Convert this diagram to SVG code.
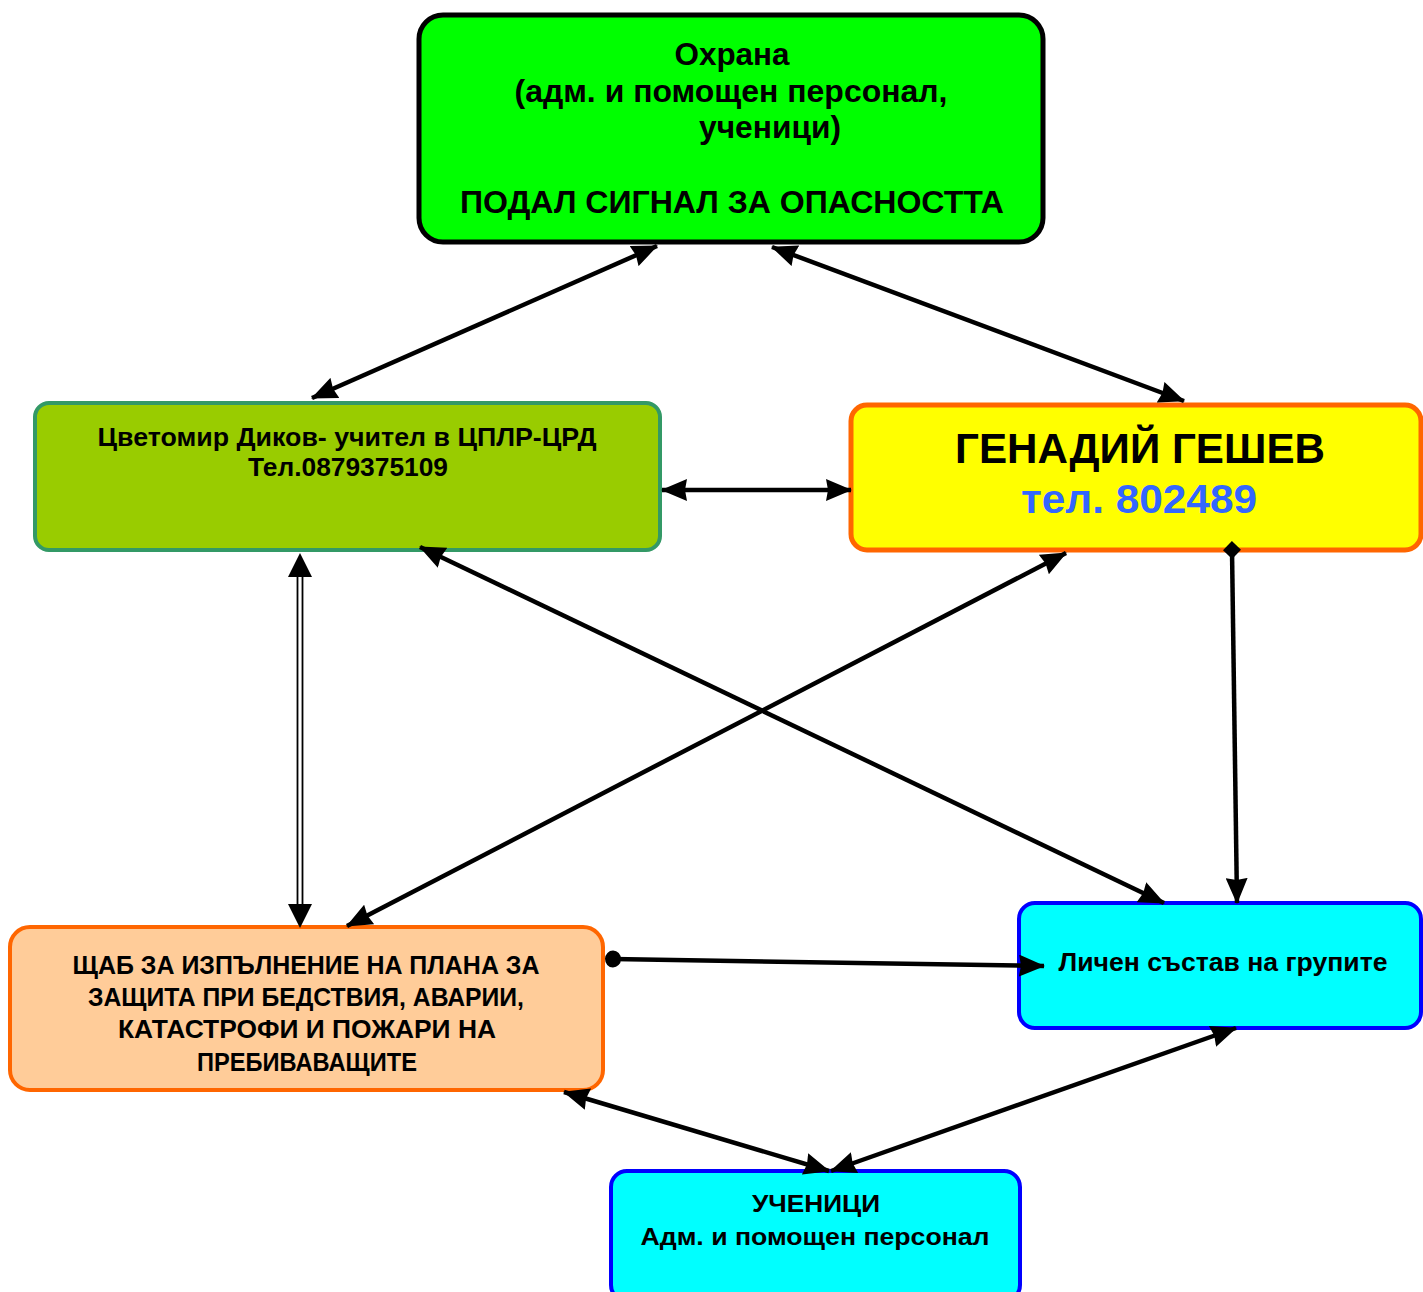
<svg xmlns="http://www.w3.org/2000/svg" width="1423" height="1292" viewBox="0 0 1423 1292">
<style>
.t{font-family:"Liberation Sans Narrow","Liberation Sans",Arial,sans-serif;font-weight:bold;fill:#000;text-anchor:middle}
.g{font-family:"URW Gothic","Century Gothic","Liberation Sans",Arial,sans-serif;font-weight:bold;fill:#000;text-anchor:middle}
.c{stroke:#000;stroke-width:4.5;fill:none}
.d{stroke:#000;stroke-width:1.8;fill:none}
</style>
<defs>
<marker id="ae" viewBox="0 0 26 22" refX="25" refY="11" markerWidth="26" markerHeight="22" markerUnits="userSpaceOnUse" orient="auto"><path d="M0,0 L26,11 L0,22 L2,11 z" fill="#000"/></marker>
<marker id="as" viewBox="0 0 26 22" refX="1" refY="11" markerWidth="26" markerHeight="22" markerUnits="userSpaceOnUse" orient="auto"><path d="M26,0 L0,11 L26,22 L24,11 z" fill="#000"/></marker>
<marker id="dia" viewBox="0 0 18 18" refX="9" refY="9" markerWidth="18" markerHeight="18" markerUnits="userSpaceOnUse" orient="auto"><path d="M0,9 L9,0 L18,9 L9,18 z" fill="#000"/></marker>
<marker id="dot" viewBox="0 0 18 18" refX="9" refY="9" markerWidth="18" markerHeight="18" markerUnits="userSpaceOnUse" orient="auto"><ellipse cx="9" cy="9" rx="8" ry="8.5" fill="#000"/></marker>
</defs>

<g id="node-ohrana">
<rect x="419" y="15" width="624" height="227" rx="24" fill="#00FF00" stroke="#000" stroke-width="5"/>
<text class="t" font-size="31" x="732" y="65" textLength="115" lengthAdjust="spacingAndGlyphs">Охрана</text>
<text class="t" font-size="31" x="731" y="102" textLength="433" lengthAdjust="spacingAndGlyphs">(адм. и помощен персонал,</text>
<text class="t" font-size="31" x="770" y="138" textLength="142" lengthAdjust="spacingAndGlyphs">ученици)</text>
<text class="t" font-size="31" x="732" y="213" textLength="544" lengthAdjust="spacingAndGlyphs">ПОДАЛ СИГНАЛ ЗА ОПАСНОСТТА</text>
</g>

<g id="node-dikov">
<rect x="35" y="403" width="625" height="147" rx="14" fill="#99CC00" stroke="#339966" stroke-width="4"/>
<text class="t" font-size="25" x="347" y="446" textLength="499" lengthAdjust="spacingAndGlyphs">Цветомир Диков- учител в ЦПЛР-ЦРД</text>
<text class="t" font-size="25" x="348" y="476" textLength="200" lengthAdjust="spacingAndGlyphs">Тел.0879375109</text>
</g>

<g id="node-geshev">
<rect x="851" y="405" width="570" height="145" rx="16" fill="#FFFF00" stroke="#FF6600" stroke-width="5"/>
<text class="t" font-size="42" x="1140" y="463" textLength="370" lengthAdjust="spacingAndGlyphs">ГЕНАДИЙ ГЕШЕВ</text>
<text class="t" font-size="40" x="1139" y="513" style="fill:#3366FF" textLength="236" lengthAdjust="spacingAndGlyphs">тел. 802489</text>
</g>

<g id="node-shtab">
<rect x="10" y="927" width="593" height="163" rx="20" fill="#FFCC99" stroke="#FF6600" stroke-width="4"/>
<text class="g" font-size="25" x="306" y="974" textLength="467" lengthAdjust="spacingAndGlyphs">ЩАБ ЗА ИЗПЪЛНЕНИЕ НА ПЛАНА ЗА</text>
<text class="g" font-size="25" x="306" y="1006" textLength="436" lengthAdjust="spacingAndGlyphs">ЗАЩИТА ПРИ БЕДСТВИЯ, АВАРИИ,</text>
<text class="g" font-size="25" x="307" y="1038" textLength="378" lengthAdjust="spacingAndGlyphs">КАТАСТРОФИ И ПОЖАРИ  НА</text>
<text class="g" font-size="25" x="307" y="1071" textLength="220" lengthAdjust="spacingAndGlyphs">ПРЕБИВАВАЩИТЕ</text>
</g>

<g id="node-lichen">
<rect x="1019" y="903" width="402" height="125" rx="16" fill="#00FFFF" stroke="#0000FF" stroke-width="4"/>
<text class="t" font-size="25" x="1223" y="971" textLength="329" lengthAdjust="spacingAndGlyphs">Личен състав на групите</text>
</g>

<g id="node-uchenici">
<rect x="611" y="1171" width="409" height="130" rx="16" fill="#00FFFF" stroke="#0000FF" stroke-width="4"/>
<text class="t" font-size="24" x="816" y="1212" textLength="128" lengthAdjust="spacingAndGlyphs">УЧЕНИЦИ</text>
<text class="t" font-size="24" x="815" y="1245" textLength="349" lengthAdjust="spacingAndGlyphs">Адм. и помощен персонал</text>
</g>

<g id="connectors">
<line class="c" x1="312" y1="398" x2="657" y2="246" marker-start="url(#as)" marker-end="url(#ae)"/>
<line class="c" x1="772" y1="247" x2="1184" y2="401" marker-start="url(#as)" marker-end="url(#ae)"/>
<line class="c" stroke-width="3.5" x1="662" y1="490" x2="851" y2="490" marker-start="url(#as)" marker-end="url(#ae)"/>
<line class="d" x1="297.5" y1="574" x2="297.5" y2="906"/>
<line class="d" x1="302.5" y1="574" x2="302.5" y2="906"/>
<path d="M300,553 L288,577 L312,577 z" fill="#000"/>
<path d="M300,928 L288,904 L312,904 z" fill="#000"/>
<line class="c" x1="1066" y1="553" x2="347" y2="926" marker-start="url(#as)" marker-end="url(#ae)"/>
<line class="c" x1="420" y1="547" x2="1164" y2="903" marker-start="url(#as)" marker-end="url(#ae)"/>
<line class="c" x1="1232" y1="550" x2="1237" y2="903" marker-start="url(#dia)" marker-end="url(#ae)"/>
<line class="c" stroke-width="5" x1="613" y1="959" x2="1044" y2="966" marker-start="url(#dot)" marker-end="url(#ae)"/>
<line class="c" x1="564" y1="1092" x2="829" y2="1171" marker-start="url(#as)" marker-end="url(#ae)"/>
<line class="c" x1="1236" y1="1028" x2="831" y2="1171" marker-start="url(#as)" marker-end="url(#ae)"/>
</g>
</svg>
